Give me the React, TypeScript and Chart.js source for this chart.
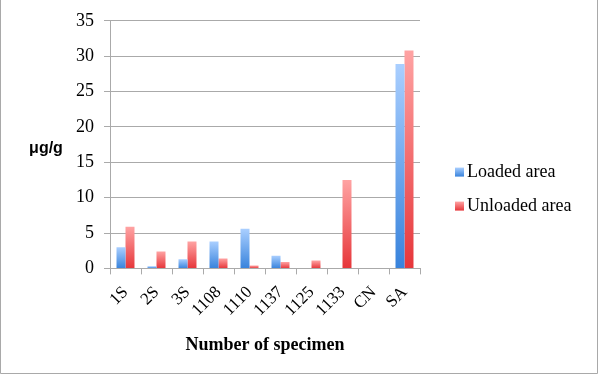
import React, { useEffect, useRef } from "react";
import { Chart, registerables } from "chart.js";

Chart.register(...registerables);

const categories = ["1S", "2S", "3S", "1108", "1110", "1137", "1125", "1133", "CN", "SA"];
const loadedArea = [3.0, 0.3, 1.3, 3.8, 5.6, 1.8, 0, 0, 0, 28.9];
const unloadedArea = [5.9, 2.4, 3.8, 1.4, 0.4, 0.9, 1.1, 12.5, 0, 30.8];
const seriesLabels = ["Loaded area", "Unloaded area"];
const yTicks = [0, 5, 10, 15, 20, 25, 30, 35];

const BLUE = ["#aacfff", "#3883dc"];
const RED = ["#ffa3a3", "#e6363a"];
const SERIF = "'Liberation Serif', serif";

function barGradient(ctx: any, colors: string[]) {
  const chart = ctx.chart;
  const area = chart.chartArea;
  if (!area) return colors[1];
  const y = chart.scales.y;
  const v = ctx.parsed ? ctx.parsed.y : 0;
  const top = y.getPixelForValue(v || 0);
  const bottom = y.getPixelForValue(0);
  if (!isFinite(top) || bottom - top < 1) return colors[1];
  const g = chart.ctx.createLinearGradient(0, top, 0, bottom);
  g.addColorStop(0, colors[0]);
  g.addColorStop(1, colors[1]);
  return g;
}

const decorPlugin = {
  id: "decor",
  beforeDraw(chart: any) {
    const c = chart.ctx;
    c.save();
    c.fillStyle = "#ffffff";
    c.fillRect(0, 0, chart.width, chart.height);
    c.strokeStyle = "#a9a9a9";
    c.lineWidth = 1;
    c.beginPath();
    c.moveTo(0.5, 0);
    c.lineTo(0.5, 373.5);
    c.lineTo(597.5, 373.5);
    c.lineTo(597.5, 0);
    c.stroke();
    c.restore();
  },
  afterDraw(chart: any) {
    const c = chart.ctx;
    const a = chart.chartArea;
    c.save();
    c.fillStyle = "#000";
    c.font = "bold 16px 'Liberation Sans', Arial, sans-serif";
    c.textAlign = "center";
    c.textBaseline = "middle";
    c.fillText("μg/g", a.left - 64, (a.top + a.bottom) / 2 + 4);
    const sets = [BLUE, RED];
    c.font = "18px " + SERIF;
    c.textAlign = "left";
    chart.data.datasets.forEach((ds: any, i: number) => {
      const cy = (a.top + a.bottom) / 2 + 28 + i * 34;
      const bx = a.right + 35;
      const g = c.createLinearGradient(0, cy - 5, 0, cy + 4);
      g.addColorStop(0, sets[i][0]);
      g.addColorStop(1, sets[i][1]);
      c.fillStyle = g;
      c.fillRect(bx, cy - 5, 9, 9);
      c.fillStyle = "#000";
      c.fillText(ds.label, bx + 12, cy);
    });
    c.restore();
  },
};

export default function App() {
  const ref = useRef<HTMLCanvasElement>(null);
  useEffect(() => {
    if (!ref.current) return;
    const chart = new Chart(ref.current, {
      type: "bar",
      data: {
        labels: categories,
        datasets: [
          {
            label: seriesLabels[0],
            data: loadedArea,
            backgroundColor: (ctx: any) => barGradient(ctx, BLUE),
            categoryPercentage: 0.58,
            barPercentage: 1.0,
          },
          {
            label: seriesLabels[1],
            data: unloadedArea,
            backgroundColor: (ctx: any) => barGradient(ctx, RED),
            categoryPercentage: 0.58,
            barPercentage: 1.0,
          },
        ],
      },
      options: {
        responsive: false,
        animation: false,
        devicePixelRatio: 1,
        layout: { padding: { left: 66, right: 182, top: 12, bottom: 21 } },
        plugins: {
          legend: { display: false },
          tooltip: { enabled: false },
        },
        scales: {
          x: {
            grid: {
              drawOnChartArea: false,
              drawTicks: true,
              tickLength: 6,
              color: "#aaaaaa",
              offset: true,
            },
            border: { color: "#aaaaaa", width: 1 },
            ticks: {
              color: "#000",
              font: { family: SERIF, size: 17 },
              minRotation: 45,
              maxRotation: 45,
              autoSkip: false,
              padding: 8,
            },
            title: {
              display: true,
              text: "Number of specimen",
              color: "#000",
              font: { family: SERIF, size: 18, weight: "bold" },
              padding: { top: 6, bottom: 0 },
            },
          },
          y: {
            min: 0,
            max: 35,
            afterBuildTicks: (scale: any) => {
              scale.ticks = yTicks.map((v) => ({ value: v }));
            },
            grid: {
              color: "#aaaaaa",
              lineWidth: 1,
              tickLength: 6,
            },
            border: { color: "#aaaaaa", width: 1 },
            ticks: {
              color: "#000",
              font: { family: SERIF, size: 18 },
              padding: 10,
            },
          },
        },
      },
      plugins: [decorPlugin],
    });
    return () => chart.destroy();
  }, []);
  return (
    <div style={{ position: "absolute", left: 0, top: 0, width: 602, height: 377 }}>
      <canvas ref={ref} width={602} height={377} style={{ display: "block" }} />
    </div>
  );
}
